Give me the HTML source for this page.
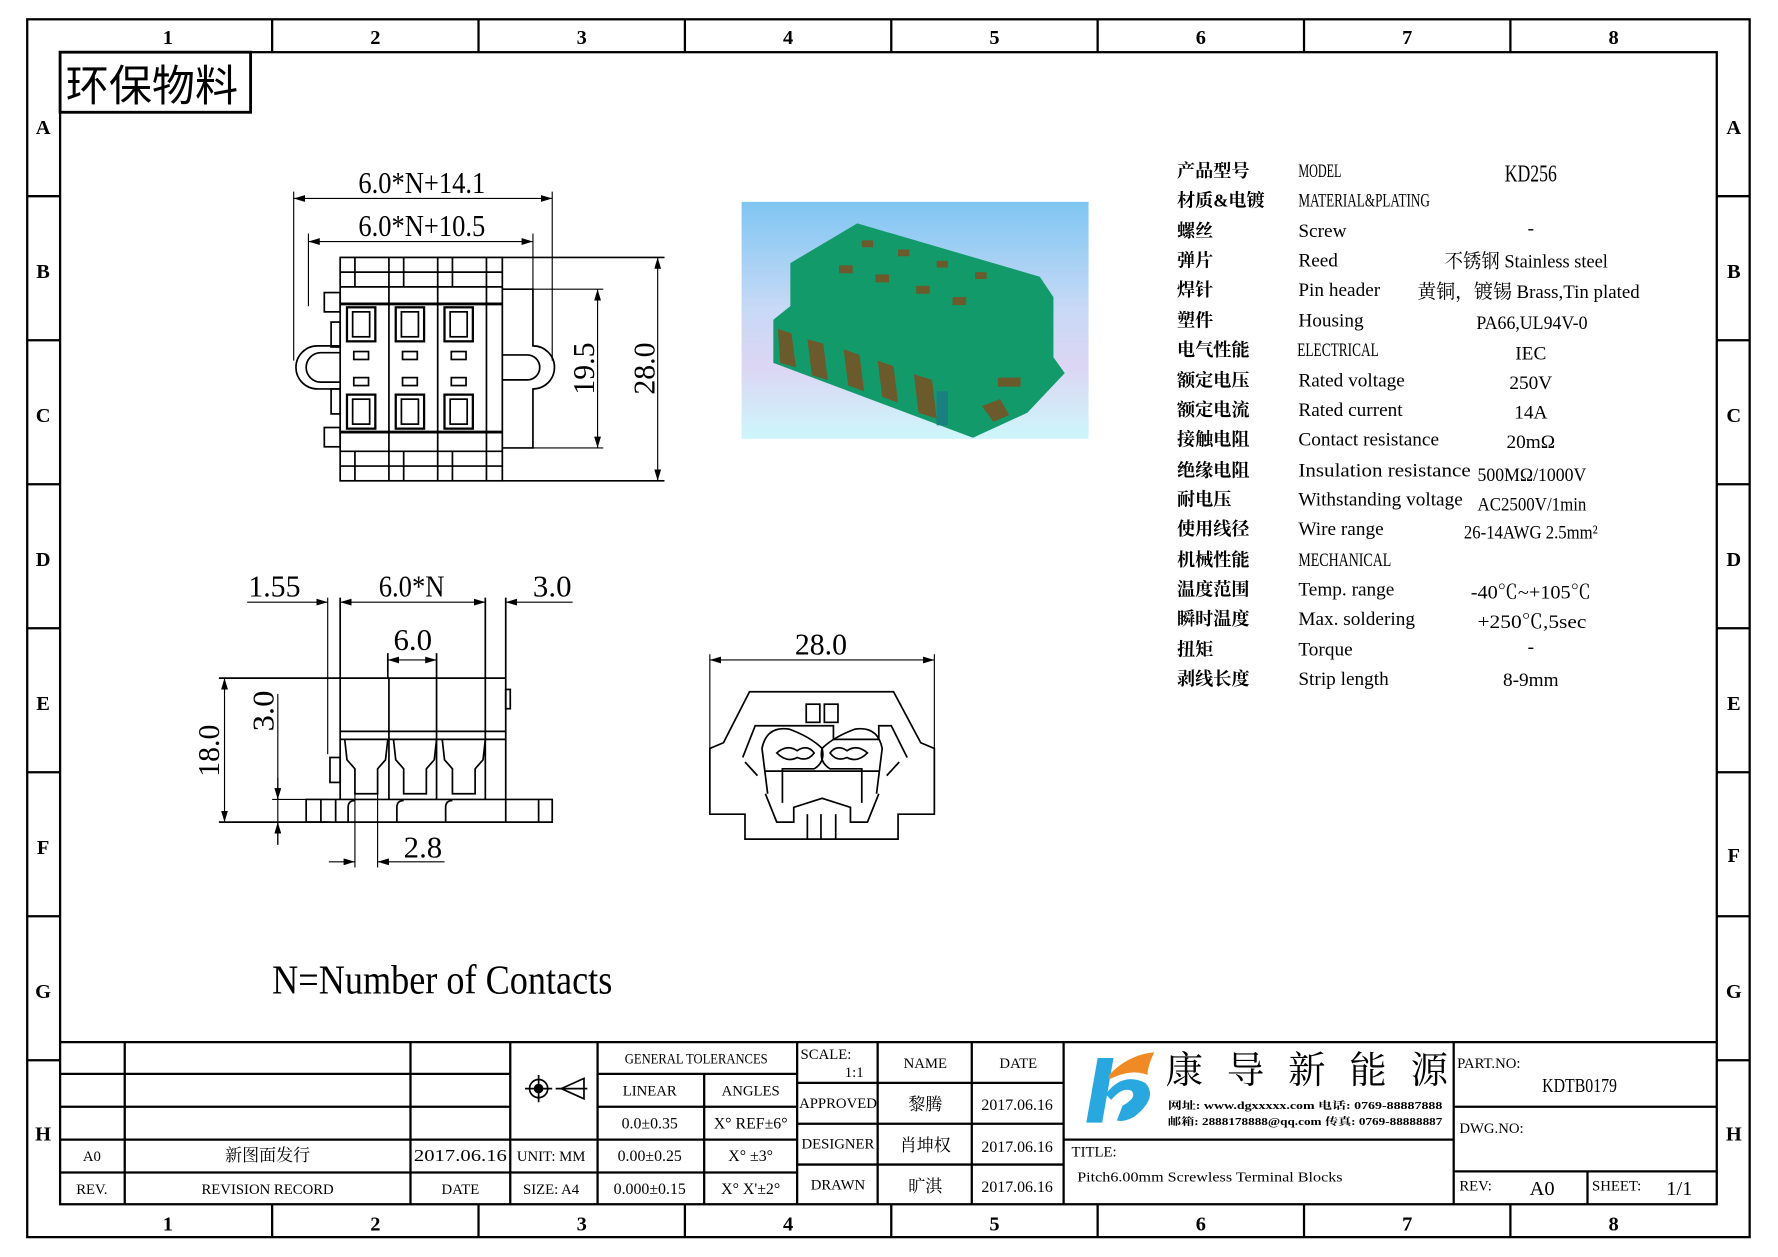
<!DOCTYPE html>
<html><head><meta charset="utf-8"><style>
html,body{margin:0;padding:0;background:#fff;}
svg{display:block;}
text{font-family:"Liberation Serif","Noto Serif CJK SC","Noto Sans CJK SC",serif;fill:#000;}
.s{font-family:"Liberation Sans","Noto Sans CJK SC",sans-serif;font-weight:bold;}
.c{font-family:"Liberation Sans","Noto Sans CJK SC",sans-serif;font-weight:bold;}
</style></head><body>
<svg width="1778" height="1257" viewBox="0 0 1568 1108.5" xmlns="http://www.w3.org/2000/svg">
<defs>
<linearGradient id="bg" x1="0" y1="0" x2="0" y2="1">
<stop offset="0" stop-color="#7fc6f2"/><stop offset="0.45" stop-color="#c7d9f6"/><stop offset="0.7" stop-color="#dcd6f4"/><stop offset="1" stop-color="#cdf6fb"/>
</linearGradient>
<marker id="ar" viewBox="0 0 10 6" refX="10" refY="3" markerWidth="10" markerHeight="6" orient="auto-start-reverse" markerUnits="userSpaceOnUse"><path d="M0,0 L10,3 L0,6z" fill="#000"/></marker>
</defs>
<g fill="none" stroke="#000">
<!-- outer frame -->
<rect x="24" y="17" width="1519" height="1074" stroke-width="2"/>
<rect x="53" y="46" width="1461" height="1016" stroke-width="2"/>
<g stroke-width="2">
<line x1="240" y1="17" x2="240" y2="46"/><line x1="422" y1="17" x2="422" y2="46"/><line x1="604" y1="17" x2="604" y2="46"/><line x1="786" y1="17" x2="786" y2="46"/><line x1="968" y1="17" x2="968" y2="46"/><line x1="1150" y1="17" x2="1150" y2="46"/><line x1="1332" y1="17" x2="1332" y2="46"/>
<line x1="240" y1="1062" x2="240" y2="1091"/><line x1="422" y1="1062" x2="422" y2="1091"/><line x1="604" y1="1062" x2="604" y2="1091"/><line x1="786" y1="1062" x2="786" y2="1091"/><line x1="968" y1="1062" x2="968" y2="1091"/><line x1="1150" y1="1062" x2="1150" y2="1091"/><line x1="1332" y1="1062" x2="1332" y2="1091"/>
<line x1="24" y1="173" x2="53" y2="173"/><line x1="24" y1="300" x2="53" y2="300"/><line x1="24" y1="427" x2="53" y2="427"/><line x1="24" y1="554" x2="53" y2="554"/><line x1="24" y1="681" x2="53" y2="681"/><line x1="24" y1="808" x2="53" y2="808"/><line x1="24" y1="935" x2="53" y2="935"/>
<line x1="1514" y1="173" x2="1543" y2="173"/><line x1="1514" y1="300" x2="1543" y2="300"/><line x1="1514" y1="427" x2="1543" y2="427"/><line x1="1514" y1="554" x2="1543" y2="554"/><line x1="1514" y1="681" x2="1543" y2="681"/><line x1="1514" y1="808" x2="1543" y2="808"/><line x1="1514" y1="935" x2="1543" y2="935"/>
</g>
<rect x="53" y="46" width="168" height="53" stroke-width="2.5"/>
</g>
<g class="s" font-size="18" text-anchor="middle">
<text x="148" y="39">1</text><text x="331" y="39">2</text><text x="513" y="39">3</text><text x="695" y="39">4</text><text x="877" y="39">5</text><text x="1059" y="39">6</text><text x="1241" y="39">7</text><text x="1423" y="39">8</text>
<text x="148" y="1085">1</text><text x="331" y="1085">2</text><text x="513" y="1085">3</text><text x="695" y="1085">4</text><text x="877" y="1085">5</text><text x="1059" y="1085">6</text><text x="1241" y="1085">7</text><text x="1423" y="1085">8</text>
<text x="38" y="118">A</text><text x="38" y="245">B</text><text x="38" y="372">C</text><text x="38" y="499">D</text><text x="38" y="626">E</text><text x="38" y="753">F</text><text x="38" y="880">G</text><text x="38" y="1006">H</text>
<text x="1529" y="118">A</text><text x="1529" y="245">B</text><text x="1529" y="372">C</text><text x="1529" y="499">D</text><text x="1529" y="626">E</text><text x="1529" y="760">F</text><text x="1529" y="880">G</text><text x="1529" y="1006">H</text>
</g>
<text x="58" y="89" font-size="38" style="font-family:'Noto Sans CJK SC',sans-serif">环保物料</text>

<!-- TOP VIEW -->
<g fill="none" stroke="#000" stroke-width="1.5">
<rect x="300" y="227" width="143" height="197"/>
<line x1="300" y1="240" x2="443" y2="240"/><line x1="300" y1="253" x2="443" y2="253"/>
<line x1="300" y1="411" x2="443" y2="411"/><line x1="300" y1="398" x2="443" y2="398"/>
<line x1="300" y1="268" x2="443" y2="268" stroke-width="2.5"/><line x1="300" y1="381" x2="443" y2="381" stroke-width="2.5"/>
<line x1="343" y1="227" x2="343" y2="424"/><line x1="386" y1="227" x2="386" y2="424"/><line x1="429" y1="227" x2="429" y2="424"/>
<line x1="313" y1="227" x2="313" y2="253"/><line x1="356" y1="227" x2="356" y2="253"/><line x1="399" y1="227" x2="399" y2="253"/>
<line x1="313" y1="398" x2="313" y2="424"/><line x1="356" y1="398" x2="356" y2="424"/><line x1="399" y1="398" x2="399" y2="424"/>
<rect x="306" y="271" width="25" height="30" stroke-width="2"/><rect x="311" y="275" width="15" height="22"/>
<rect x="349" y="271" width="25" height="30" stroke-width="2"/><rect x="354" y="275" width="15" height="22"/>
<rect x="392" y="271" width="25" height="30" stroke-width="2"/><rect x="397" y="275" width="15" height="22"/>
<rect x="306" y="348" width="25" height="30" stroke-width="2"/><rect x="311" y="352" width="15" height="22"/>
<rect x="349" y="348" width="25" height="30" stroke-width="2"/><rect x="354" y="352" width="15" height="22"/>
<rect x="392" y="348" width="25" height="30" stroke-width="2"/><rect x="397" y="352" width="15" height="22"/>
<rect x="312" y="310" width="13" height="7"/><rect x="355" y="310" width="13" height="7"/><rect x="398" y="310" width="13" height="7"/>
<rect x="312" y="333" width="13" height="7"/><rect x="355" y="333" width="13" height="7"/><rect x="398" y="333" width="13" height="7"/>
<!-- left ear -->
<path d="M300 305 L280 305 A19 19 0 0 0 280 343 L300 343"/>
<path d="M300 311 L283 311 A13 13 0 0 0 283 337 L300 337"/>
<rect x="286" y="258" width="14" height="17"/><rect x="286" y="377" width="14" height="17"/>
<rect x="292" y="284" width="8" height="22"/><rect x="292" y="343" width="8" height="22"/>
<!-- right side -->
<path d="M443 255 L470 255 L470 305 A19 19 0 0 1 470 343 L470 395 L443 395"/>
<path d="M443 313 L450 313 L465 313 A11 11 0 0 1 465 335 L443 335"/>
<!-- dims -->
<line x1="259" y1="169" x2="259" y2="318" stroke-width="1"/><line x1="487" y1="169" x2="487" y2="318" stroke-width="1"/>
<line x1="259" y1="175" x2="487" y2="175" stroke-width="1" marker-start="url(#ar)" marker-end="url(#ar)"/>
<line x1="272" y1="206" x2="272" y2="270" stroke-width="1"/><line x1="470" y1="206" x2="470" y2="255" stroke-width="1"/>
<line x1="272" y1="213" x2="470" y2="213" stroke-width="1" marker-start="url(#ar)" marker-end="url(#ar)"/>
<line x1="443" y1="227" x2="586" y2="227" stroke-width="1.5"/><line x1="443" y1="424" x2="586" y2="424" stroke-width="1.5"/>
<line x1="580" y1="227" x2="580" y2="424" stroke-width="1" marker-start="url(#ar)" marker-end="url(#ar)"/>
<line x1="470" y1="255" x2="532" y2="255" stroke-width="1"/><line x1="470" y1="395" x2="532" y2="395" stroke-width="1"/>
<line x1="527" y1="255" x2="527" y2="395" stroke-width="1" marker-start="url(#ar)" marker-end="url(#ar)"/>
</g>
<g font-size="27" text-anchor="middle">
<text x="372" y="170" textLength="112" lengthAdjust="spacingAndGlyphs">6.0*N+14.1</text>
<text x="372" y="208" textLength="112" lengthAdjust="spacingAndGlyphs">6.0*N+10.5</text>
<text transform="translate(524,325) rotate(-90)" textLength="46" lengthAdjust="spacingAndGlyphs">19.5</text>
<text transform="translate(577,325) rotate(-90)" textLength="46" lengthAdjust="spacingAndGlyphs">28.0</text>
</g>

<!-- PHOTO -->
<rect x="654" y="178" width="306" height="209" fill="url(#bg)"/>
<polygon points="697,232 756,197 917,244 929,262 929,315 939,329 906,364 858,386 682,320 682,282 697,270" fill="#139a6a"/>
<g fill="#6a5a2c">
<path d="M686 290 l12 4 l4 30 l-14 -4z"/><path d="M712 299 l14 4 l4 32 l-14 -4z"/><path d="M744 308 l14 5 l4 32 l-14 -5z"/><path d="M774 318 l14 5 l4 32 l-14 -5z"/><path d="M806 330 l16 5 l4 34 l-16 -5z"/>
<rect x="740" y="234" width="12" height="7"/><rect x="772" y="242" width="12" height="7"/><rect x="808" y="252" width="12" height="7"/><rect x="840" y="262" width="12" height="7"/><rect x="760" y="212" width="10" height="6"/><rect x="792" y="220" width="10" height="6"/><rect x="826" y="230" width="10" height="6"/><rect x="860" y="240" width="10" height="6"/>
<rect x="880" y="333" width="20" height="8"/><path d="M866 358 l16 -6 l8 14 l-14 6z"/>
</g>
<rect x="826" y="345" width="10" height="30" fill="#1a7f7f"/>

<!-- SIDE VIEW -->
<g fill="none" stroke="#000" stroke-width="1.5">
<line x1="193" y1="598" x2="446" y2="598"/>
<line x1="300" y1="598" x2="300" y2="705"/><line x1="446" y1="598" x2="446" y2="705"/>
<line x1="300" y1="645" x2="446" y2="645"/><line x1="300" y1="652" x2="446" y2="652"/>
<line x1="343" y1="598" x2="343" y2="705"/><line x1="385" y1="598" x2="385" y2="705"/><line x1="428" y1="598" x2="428" y2="705"/>
<rect x="446" y="608" width="4" height="17"/><rect x="291" y="668" width="9" height="22"/>
<path d="M304 652 L306 670 L313 678 L313 700 L333 700 L333 678 L340 670 L342 652"/>
<path d="M347 652 L349 670 L356 678 L356 700 L376 700 L376 678 L383 670 L385 652"/>
<path d="M390 652 L392 670 L399 678 L399 700 L419 700 L419 678 L426 670 L428 652"/>
<path d="M270 705 L487 705 L487 725 L270 725z"/>
<line x1="283" y1="705" x2="283" y2="725"/><line x1="296" y1="705" x2="296" y2="725"/><line x1="475" y1="705" x2="475" y2="725"/><line x1="446" y1="705" x2="446" y2="725"/>
<path d="M307 725 L307 712 Q307 706 313 706 M350 725 L350 712 Q350 706 356 706 M393 725 L393 712 Q393 706 399 706"/>
<line x1="193" y1="725" x2="290" y2="725"/>
<line x1="198" y1="598" x2="198" y2="725" stroke-width="1" marker-start="url(#ar)" marker-end="url(#ar)"/>
<line x1="245" y1="686" x2="245" y2="705" stroke-width="1" marker-end="url(#ar)"/>
<line x1="245" y1="745" x2="245" y2="725" stroke-width="1" marker-end="url(#ar)"/>
<line x1="245" y1="612" x2="245" y2="745" stroke-width="1"/>
<line x1="240" y1="705" x2="290" y2="705" stroke-width="1"/>
<line x1="289" y1="527" x2="289" y2="665" stroke-width="1"/><line x1="300" y1="527" x2="300" y2="598"/>
<line x1="428" y1="527" x2="428" y2="598"/><line x1="446" y1="527" x2="446" y2="598"/>
<line x1="218" y1="531" x2="289" y2="531" stroke-width="1" marker-end="url(#ar)"/>
<line x1="300" y1="531" x2="428" y2="531" stroke-width="1" marker-start="url(#ar)" marker-end="url(#ar)"/>
<line x1="505" y1="531" x2="446" y2="531" stroke-width="1" marker-end="url(#ar)"/>
<line x1="342" y1="576" x2="342" y2="598"/><line x1="385" y1="576" x2="385" y2="598"/>
<line x1="342" y1="582" x2="385" y2="582" stroke-width="1" marker-start="url(#ar)" marker-end="url(#ar)"/>
<line x1="313" y1="700" x2="313" y2="765" stroke-width="1"/><line x1="333" y1="700" x2="333" y2="765" stroke-width="1"/>
<line x1="290" y1="760" x2="313" y2="760" stroke-width="1" marker-end="url(#ar)"/>
<line x1="392" y1="760" x2="333" y2="760" stroke-width="1" marker-end="url(#ar)"/>
</g>
<g font-size="27" text-anchor="middle">
<text x="242" y="526" textLength="46" lengthAdjust="spacingAndGlyphs">1.55</text>
<text x="363" y="526" textLength="58" lengthAdjust="spacingAndGlyphs">6.0*N</text>
<text x="487" y="526" textLength="34" lengthAdjust="spacingAndGlyphs">3.0</text>
<text x="364" y="573" textLength="34" lengthAdjust="spacingAndGlyphs">6.0</text>
<text x="373" y="756" textLength="34" lengthAdjust="spacingAndGlyphs">2.8</text>
<text transform="translate(193,662) rotate(-90)" textLength="46" lengthAdjust="spacingAndGlyphs">18.0</text>
<text transform="translate(241,627) rotate(-90)" textLength="36" lengthAdjust="spacingAndGlyphs">3.0</text>
</g>

<!-- END VIEW -->
<g fill="none" stroke="#000" stroke-width="1.5">
<line x1="626" y1="577" x2="626" y2="718" stroke-width="1"/><line x1="824" y1="577" x2="824" y2="718" stroke-width="1"/>
<line x1="626" y1="582" x2="824" y2="582" stroke-width="1" marker-start="url(#ar)" marker-end="url(#ar)"/>
<path d="M626 718 L626 660 L638 655 L661 610 L788 610 L812 655 L824 660 L824 718 L792 718 L792 740 L657 740 L657 718 Z"/>
<path d="M655 668 L666 640 L735 640 L735 652 L775 652 L775 640 L786 640 L800 668"/>
<rect x="711" y="621" width="12" height="16"/><rect x="727" y="621" width="12" height="16"/>
<path d="M677 700 L672 660 Q676 640 696 643 Q715 650 725 660 Q728 672 718 678 L690 678 L690 708"/>
<path d="M773 700 L778 660 Q774 640 754 643 Q735 650 725 660 Q722 672 732 678 L760 678 L760 708"/>
<path d="M685 664 Q694 656 703 662 Q712 656 718 664 Q712 672 703 668 Q694 673 685 664z"/>
<path d="M732 664 Q738 656 747 662 Q756 656 765 664 Q756 673 747 668 Q738 672 732 664z"/>
<line x1="675" y1="680" x2="775" y2="680"/>
<path d="M675 700 L685 725 L700 725 L700 712 L725 704 L750 712 L750 725 L765 725 L775 700"/>
<line x1="712" y1="718" x2="712" y2="740"/><line x1="724" y1="718" x2="724" y2="740"/><line x1="737" y1="718" x2="737" y2="740"/>
<path d="M657 672 L668 684 M793 672 L782 684"/>
</g>
<text x="724" y="577" font-size="27" text-anchor="middle" textLength="46" lengthAdjust="spacingAndGlyphs">28.0</text>

<!-- SPEC TABLE -->
<g font-size="16" style="font-family:'Noto Sans CJK SC',sans-serif;font-weight:bold">
<text x="1038" y="156">产品型号</text><text x="1038" y="182">材质&amp;电镀</text><text x="1038" y="209">螺丝</text><text x="1038" y="235">弹片</text><text x="1038" y="261">焊针</text><text x="1038" y="288">塑件</text><text x="1038" y="314">电气性能</text><text x="1038" y="341">额定电压</text><text x="1038" y="367">额定电流</text><text x="1038" y="393">接触电阻</text><text x="1038" y="420">绝缘电阻</text><text x="1038" y="446">耐电压</text><text x="1038" y="472">使用线径</text><text x="1038" y="499">机械性能</text><text x="1038" y="525">温度范围</text><text x="1038" y="551">瞬时温度</text><text x="1038" y="578">扭矩</text><text x="1038" y="604">剥线长度</text>
</g>
<g font-size="17">
<text x="1145" y="156" textLength="38" lengthAdjust="spacingAndGlyphs">MODEL</text>
<text x="1145" y="182" textLength="116" lengthAdjust="spacingAndGlyphs">MATERIAL&amp;PLATING</text>
<text x="1145" y="209">Screw</text><text x="1145" y="235">Reed</text><text x="1145" y="261">Pin header</text><text x="1145" y="288">Housing</text>
<text x="1144" y="314" textLength="72" lengthAdjust="spacingAndGlyphs">ELECTRICAL</text>
<text x="1145" y="341">Rated voltage</text><text x="1145" y="367">Rated current</text><text x="1145" y="393">Contact resistance</text><text x="1145" y="420" textLength="152" lengthAdjust="spacingAndGlyphs">Insulation resistance</text><text x="1145" y="446" textLength="145" lengthAdjust="spacingAndGlyphs">Withstanding voltage</text><text x="1145" y="472">Wire range</text>
<text x="1145" y="499" textLength="82" lengthAdjust="spacingAndGlyphs">MECHANICAL</text>
<text x="1145" y="525">Temp. range</text><text x="1145" y="551">Max. soldering</text><text x="1145" y="578">Torque</text><text x="1145" y="604">Strip length</text>
</g>
<g font-size="17" text-anchor="middle">
<text x="1350" y="160" font-size="21" textLength="46" lengthAdjust="spacingAndGlyphs">KD256</text>
<text x="1350" y="207">-</text>
<text x="1346" y="236" textLength="144" lengthAdjust="spacingAndGlyphs">不锈钢 Stainless steel</text>
<text x="1348" y="263" textLength="196" lengthAdjust="spacingAndGlyphs">黄铜，镀锡 Brass,Tin plated</text>
<text x="1351" y="290" textLength="98" lengthAdjust="spacingAndGlyphs">PA66,UL94V-0</text>
<text x="1350" y="317">IEC</text><text x="1350" y="343">250V</text><text x="1350" y="369">14A</text><text x="1350" y="395">20mΩ</text>
<text x="1351" y="424" textLength="96" lengthAdjust="spacingAndGlyphs">500MΩ/1000V</text>
<text x="1351" y="450" textLength="96" lengthAdjust="spacingAndGlyphs">AC2500V/1min</text>
<text x="1350" y="475" textLength="118" lengthAdjust="spacingAndGlyphs">26-14AWG 2.5mm²</text>
<text x="1350" y="528" textLength="106" lengthAdjust="spacingAndGlyphs">-40℃~+105℃</text>
<text x="1351" y="554" textLength="96" lengthAdjust="spacingAndGlyphs">+250℃,5sec</text>
<text x="1350" y="576">-</text><text x="1350" y="605">8-9mm</text>
</g>
<text x="240" y="876" font-size="36" textLength="300" lengthAdjust="spacingAndGlyphs">N=Number of Contacts</text>

<!-- TITLE BLOCK -->
<g fill="none" stroke="#000" stroke-width="2">
<line x1="53" y1="919" x2="1514" y2="919"/>
<line x1="53" y1="947" x2="450" y2="947"/><line x1="53" y1="976" x2="450" y2="976"/><line x1="53" y1="1005" x2="527" y2="1005"/><line x1="53" y1="1034" x2="527" y2="1034"/>
<line x1="110" y1="919" x2="110" y2="1062"/><line x1="362" y1="919" x2="362" y2="1062"/><line x1="450" y1="919" x2="450" y2="1062"/><line x1="527" y1="919" x2="527" y2="1062"/>
<line x1="527" y1="947" x2="703" y2="947"/><line x1="527" y1="976" x2="703" y2="976"/><line x1="527" y1="1005" x2="703" y2="1005"/><line x1="527" y1="1034" x2="703" y2="1034"/>
<line x1="621" y1="947" x2="621" y2="1062"/><line x1="703" y1="919" x2="703" y2="1062"/>
<line x1="703" y1="955" x2="938" y2="955"/><line x1="703" y1="991" x2="938" y2="991"/><line x1="703" y1="1027" x2="938" y2="1027"/>
<line x1="774" y1="919" x2="774" y2="1062"/><line x1="857" y1="919" x2="857" y2="1062"/><line x1="938" y1="919" x2="938" y2="1062"/>
<line x1="938" y1="1005" x2="1282" y2="1005"/><line x1="1282" y1="919" x2="1282" y2="1062"/>
<line x1="1282" y1="976" x2="1514" y2="976"/><line x1="1282" y1="1033" x2="1514" y2="1033"/><line x1="1400" y1="1033" x2="1400" y2="1062"/>
</g>
<g fill="none" stroke="#000" stroke-width="1.5">
<circle cx="475" cy="960" r="8"/><circle cx="475" cy="960" r="3.5" fill="#000"/><line x1="463" y1="960" x2="487" y2="960"/><line x1="475" y1="948" x2="475" y2="972"/>
<path d="M495 960 L515 951 L515 969 Z"/><line x1="490" y1="960" x2="518" y2="960"/>
</g>
<g font-size="13" text-anchor="middle">
<text x="81" y="1024">A0</text><text x="236" y="1024" style="font-family:'Noto Serif CJK SC',serif" font-size="15">新图面发行</text><text x="406" y="1024" textLength="82" lengthAdjust="spacingAndGlyphs" font-size="15">2017.06.16</text>
<text x="81" y="1053">REV.</text><text x="236" y="1053">REVISION RECORD</text><text x="406" y="1053">DATE</text>
<text x="486" y="1024">UNIT: MM</text><text x="486" y="1053">SIZE: A4</text>
<text x="614" y="938" textLength="126" lengthAdjust="spacingAndGlyphs">GENERAL TOLERANCES</text>
<text x="573" y="966">LINEAR</text><text x="662" y="966">ANGLES</text>
<text x="573" y="995" font-size="14">0.0±0.35</text><text x="662" y="995" font-size="14">X° REF±6°</text>
<text x="573" y="1024" font-size="14">0.00±0.25</text><text x="662" y="1024" font-size="14">X° ±3°</text>
<text x="573" y="1053" font-size="14">0.000±0.15</text><text x="662" y="1053" font-size="14">X° X'±2°</text>
<text x="739" y="977">APPROVED</text><text x="739" y="1013">DESIGNER</text><text x="739" y="1049">DRAWN</text>
<text x="816" y="942">NAME</text><text x="898" y="942">DATE</text>
<text x="816" y="979" style="font-family:'Noto Serif CJK SC',serif" font-size="15">黎腾</text><text x="816" y="1015" style="font-family:'Noto Serif CJK SC',serif" font-size="15">肖坤权</text><text x="816" y="1051" style="font-family:'Noto Serif CJK SC',serif" font-size="15">旷淇</text>
<text x="897" y="979" font-size="14">2017.06.16</text><text x="897" y="1016" font-size="14">2017.06.16</text><text x="897" y="1051" font-size="14">2017.06.16</text>
</g>
<text x="706" y="934" font-size="13">SCALE:</text><text x="745" y="950" font-size="13">1:1</text>
<!-- logo -->
<path d="M968 933 L982 933 L972 990 L958 990 Z" fill="#29a8e0"/>
<path d="M975 965 Q990 945 1010 955 Q1022 968 1000 985 Q990 990 985 988 L990 975 Q1003 968 998 962 Q990 958 980 970 Z" fill="#29a8e0"/>
<path d="M978 948 Q995 930 1018 928 Q1012 940 1012 948 Q998 942 978 952 Z" fill="#f08a24"/>
<g font-size="33" style="font-family:'Noto Serif CJK SC',serif">
<text x="1028" y="955">康</text><text x="1082" y="955">导</text><text x="1136" y="955">新</text><text x="1190" y="955">能</text><text x="1244" y="955">源</text>
</g>
<g font-size="9" class="c">
<text x="1030" y="978" textLength="242" lengthAdjust="spacingAndGlyphs">网址: www.dgxxxxx.com   电话: 0769-88887888</text>
<text x="1030" y="992" textLength="242" lengthAdjust="spacingAndGlyphs">邮箱: 2888178888@qq.com 传真: 0769-88888887</text>
</g>
<text x="945" y="1020" font-size="13">TITLE:</text>
<text x="950" y="1042" font-size="12" textLength="234" lengthAdjust="spacingAndGlyphs">Pitch6.00mm Screwless Terminal Blocks</text>
<text x="1285" y="942" font-size="13">PART.NO:</text>
<text x="1393" y="963" font-size="18" text-anchor="middle" textLength="66" lengthAdjust="spacingAndGlyphs">KDTB0179</text>
<text x="1287" y="999" font-size="13">DWG.NO:</text>
<text x="1287" y="1050" font-size="13">REV:</text><text x="1360" y="1054" font-size="18" text-anchor="middle">A0</text>
<text x="1404" y="1050" font-size="13">SHEET:</text><text x="1481" y="1054" font-size="18" text-anchor="middle">1/1</text>
</svg>
</body></html>
